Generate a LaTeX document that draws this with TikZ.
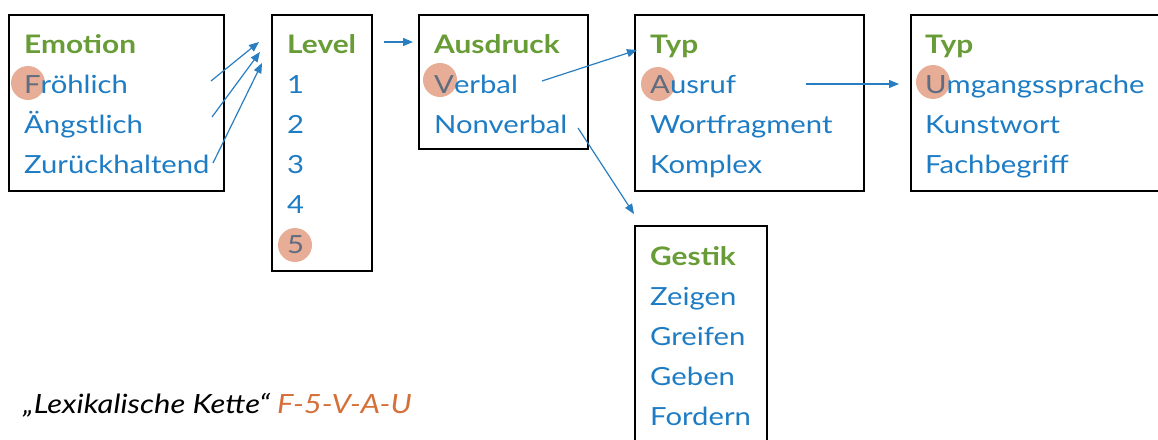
\documentclass[tikz,border=0pt]{standalone}
\usepackage{fontspec}
\setmainfont[FakeStretch=1.17]{Lato}
\usetikzlibrary{arrows.meta}
\definecolor{titlegreen}{RGB}{104,156,54}
\definecolor{itemblue}{RGB}{30,124,196}
\definecolor{markpink}{RGB}{232,173,150}
\definecolor{markgrey}{RGB}{96,108,128}
\definecolor{chainorange}{RGB}{214,112,58}
\definecolor{linkblue}{RGB}{40,126,192}
\tikzset{
  frame/.style={draw=black, line width=1.4pt},
  title/.style={anchor=base west, inner sep=0pt, font=\fontsize{25.5}{30}\selectfont\bfseries, text=titlegreen},
  item/.style={anchor=base west, inner sep=0pt, font=\fontsize{25}{30}\selectfont, text=itemblue},
  disc/.style={circle, fill=markpink, minimum size=34pt, inner sep=0pt},
  link/.style={draw=linkblue, line width=1.2pt, -{Triangle[length=10pt,width=8pt]}}
}
\begin{document}
\begin{tikzpicture}[x=1pt, y=-1pt]
\useasboundingbox (0,0) rectangle (1158,439);

% highlight discs behind the chosen entries
\node[disc] (m1) at (28,83) {};
\node[disc] (m2) at (295,245) {};
\node[disc] (m3) at (440,80) {};
\node[disc] (m4) at (658,84) {};
\node[disc] (m5) at (933,82) {};

% frames
\draw[frame] (9,15) rectangle (224,191);
\draw[frame] (272,15) rectangle (372,271);
\draw[frame] (419,15) rectangle (588,149);
\draw[frame] (635,15) rectangle (864,191);
\draw[frame] (911,15) rectangle (1170,191);
\draw[frame] (635,226) rectangle (767,450);

% Emotion
\node[title] (emo) at (24,53) {Emotion};
\node[item] (e1) at (24,93) {{\color{markgrey}F}röhlich};
\node[item] (e2) at (24,133) {Ängstlich};
\node[item] (e3) at (24,173) {Zurückhaltend};

% Level
\node[title] (lev) at (287,53) {Level};
\node[item] (l1) at (287,93) {1};
\node[item] (l2) at (287,133) {2};
\node[item] (l3) at (287,173) {3};
\node[item] (l4) at (287,213) {4};
\node[item] (l5) at (287,253) {{\color{markgrey}5}};

% Ausdruck
\node[title] (aus) at (434,53) {Ausdruck};
\node[item] (a1) at (434,93) {{\color{markgrey}V}erbal};
\node[item] (a2) at (434,133) {Nonverbal};

% Typ
\node[title] (typ) at (650,53) {Typ};
\node[item] (t1) at (650,93) {{\color{markgrey}A}usruf};
\node[item] (t2) at (650,133) {Wortfragment};
\node[item] (t3) at (650,173) {Komplex};

% Typ (second)
\node[title] (typb) at (925,53) {Typ};
\node[item] (u1) at (925,93) {{\color{markgrey}U}mgangssprache};
\node[item] (u2) at (925,133) {Kunstwort};
\node[item] (u3) at (925,173) {Fachbegriff};

% Gestik
\node[title] (ges) at (650,265) {Gestik};
\node[item] (g1) at (650,305) {Zeigen};
\node[item] (g2) at (650,345) {Greifen};
\node[item] (g3) at (650,385) {Geben};
\node[item] (g4) at (650,425) {Fordern};

% chain caption
\node[anchor=base west, inner sep=0pt, font=\fontsize{26.5}{30}\selectfont\itshape] (cap) at (23,413)
  {„Lexikalische Kette“ {\color{chainorange}F-5-V-A-U}};

% connector end points
\coordinate (s1) at (211,81);   \coordinate (d1) at (259,42);
\coordinate (s2) at (212,117);  \coordinate (d2) at (260,52);
\coordinate (s3) at (213,163);  \coordinate (d3) at (262,63);
\coordinate (s4) at (384,42);   \coordinate (d4) at (413,42);
\coordinate (s5) at (542,81);   \coordinate (d5) at (637,50);
\coordinate (s6) at (578,128);  \coordinate (d6) at (634,214);
\coordinate (s7) at (806,84);   \coordinate (d7) at (899,84);

\draw[link] (s1) -- (d1);
\draw[link] (s2) -- (d2);
\draw[link] (s3) -- (d3);
\draw[link] (s4) -- (d4);
\draw[link] (s5) -- (d5);
\draw[link] (s6) -- (d6);
\draw[link] (s7) -- (d7);
\end{tikzpicture}
\end{document}
